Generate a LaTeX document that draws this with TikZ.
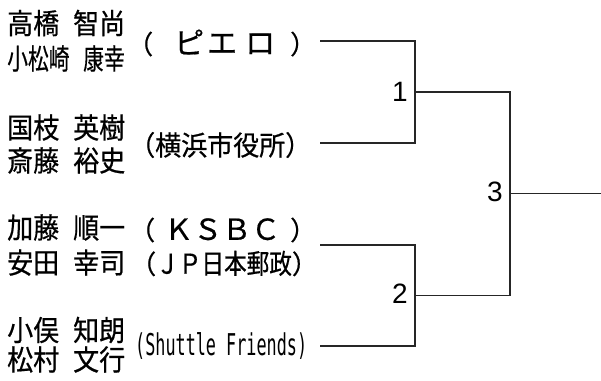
\documentclass[tikz,border=0pt]{standalone}
\usepackage{fontspec}
\setmainfont{Liberation Sans}
\newfontfamily\cjk[FakeBold=0.6]{Noto Sans CJK JP}
\newfontfamily\monof{DejaVu Sans Mono}
\newcommand{\nmfont}{\cjk\fontsize{26}{26}\selectfont}
\newcommand{\kana}[2]{{\fontsize{#1}{#1}\selectfont #2}}
\begin{document}
\begin{tikzpicture}[x=1pt,y=-1pt,
  namebox/.style={anchor=west,inner sep=0pt,font=\nmfont},
  teambox/.style={anchor=west,inner sep=0pt,font=\nmfont},
  numbox/.style={anchor=east,inner sep=0pt,font=\fontsize{28}{28}\selectfont},
  bracket/.style={draw=black!85,line width=1.1pt}]
\path[use as bounding box] (0,0) rectangle (601,380);
% names
\node[namebox] (n1a) at (7,23)    {\scalebox{1}[1.1]{高橋\hspace{14pt}智尚}};
\node[namebox] (n1b) at (7,58.5)  {\scalebox{0.8}[1.1]{小松崎\hspace{17pt}康幸}};
\node[namebox] (n2a) at (7,127.5) {\scalebox{1}[1.1]{国枝\hspace{14pt}英樹}};
\node[namebox] (n2b) at (7,160.5) {\scalebox{1}[1.1]{斎藤\hspace{14pt}裕史}};
\node[namebox] (n3a) at (7,227.5) {\scalebox{1}[1.1]{加藤\hspace{14pt}順一}};
\node[namebox] (n3b) at (7,262.5) {\scalebox{1}[1.1]{安田\hspace{14pt}幸司}};
\node[namebox] (n4a) at (7,330)   {\scalebox{1}[1.1]{小俣\hspace{14pt}知朗}};
\node[namebox] (n4b) at (7,359.5) {\scalebox{1}[1.1]{松村\hspace{14pt}文行}};
% teams
\node[teambox] (tm1) at (127,43) {（\hspace{21pt}\kana{30}{ピ}\hspace{3pt}\kana{30}{エ}\hspace{8pt}\kana{30}{ロ}\hspace{15pt}）};
\node[teambox] (tm2) at (129,145) {\scalebox{1}[1.05]{（横浜市役所）}};
\node[teambox] (tm3a) at (129,230) {（\hspace{9pt}\kana{29}{ＫＳＢＣ}\hspace{10pt}）};
\node[teambox] (tm3b) at (130,263.5) {（\scalebox{0.87}[1.05]{ＪＰ日本郵政}）};
\node[anchor=west,inner sep=0pt,font=\monof\fontsize{30}{30}\selectfont] (tm4) at (135,346) {\scalebox{0.56}[1]{(Shuttle Friends)}};
% bracket points
\coordinate (e1) at (320,41);
\coordinate (e2) at (320,143);
\coordinate (e3) at (320,245);
\coordinate (e4) at (320,346);
\coordinate (m1) at (415,92);
\coordinate (m2) at (415,295.5);
\coordinate (m3) at (510,193.5);
\coordinate (out) at (601,193.5);
\draw[bracket] (e1) -| (m1) |- (e2);
\draw[bracket] (e3) -| (m2) |- (e4);
\draw[bracket] (m1) -| (m3) |- (m2);
\draw[bracket] (m3) -- (out);
% match numbers
\node[numbox] (l1) at ([xshift=-7pt]m1) {1};
\node[numbox] (l2) at ([xshift=-7pt,yshift=1.5pt]m2) {2};
\node[numbox] (l3) at ([xshift=-7pt,yshift=1.5pt]m3) {3};
\end{tikzpicture}
\end{document}
